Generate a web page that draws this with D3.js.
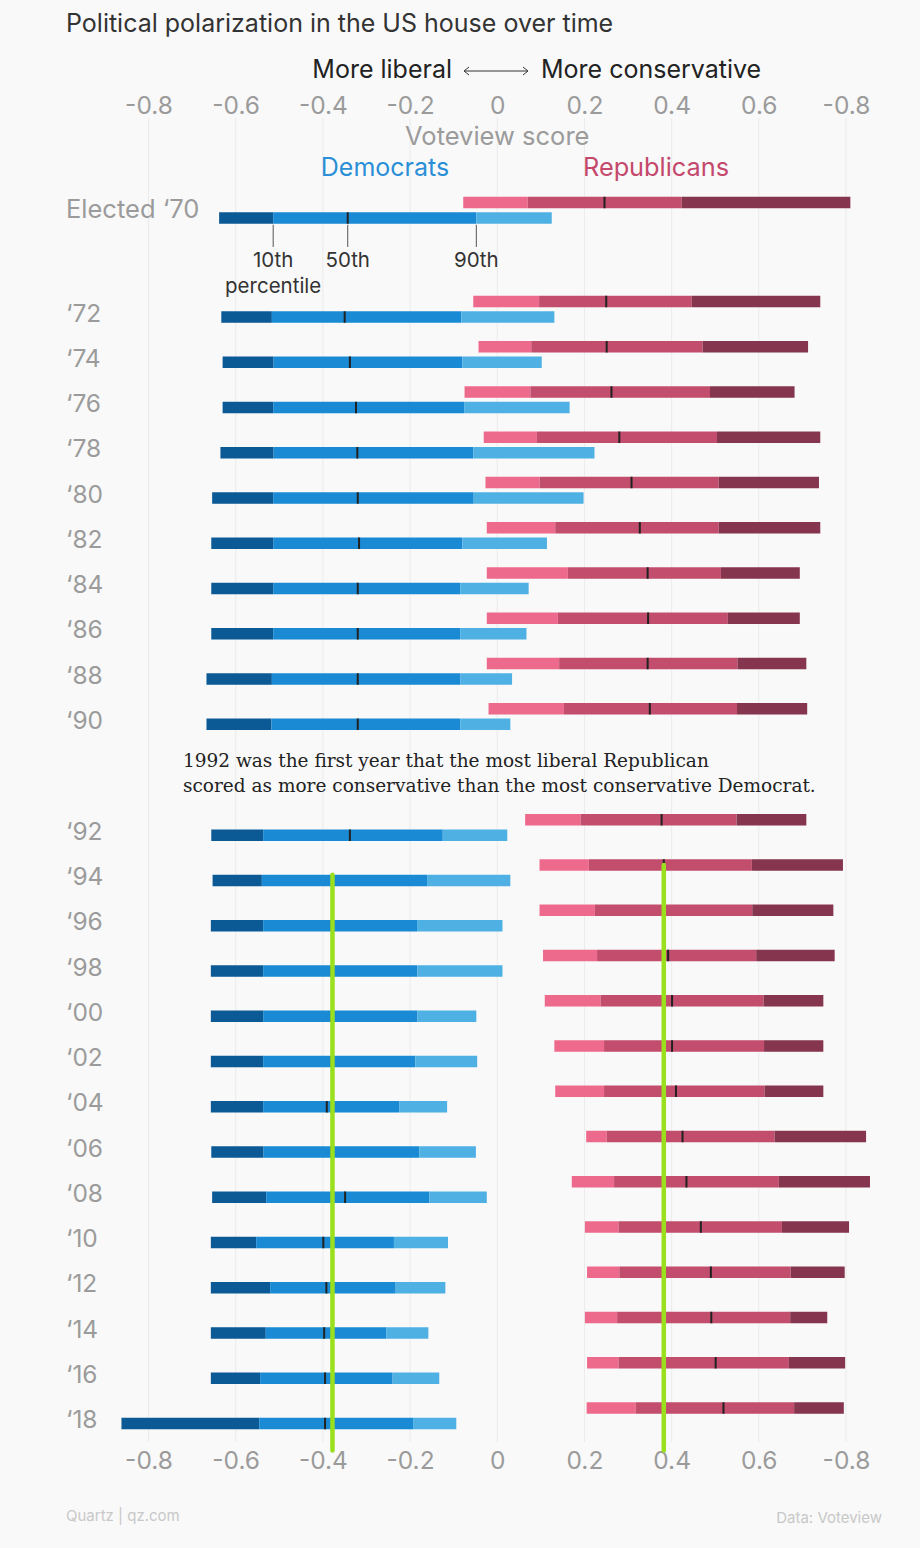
<!DOCTYPE html>
<html>
<head>
<meta charset="utf-8">
<script src="https://cdn.jsdelivr.net/npm/d3@7/dist/d3.min.js"></script>
<style>
  html, body { margin: 0; padding: 0; background: #f9f9f9; }
  svg { display: block; font-family: Inter, Roboto, "Noto Sans", sans-serif; }
</style>
</head>
<body>
<svg id="chart" width="920" height="1548"></svg>
<script>
// ---------- DATA ----------
const years = ["Elected ‘70","‘72","‘74","‘76","‘78","‘80","‘82","‘84","‘86","‘88","‘90",
  "‘92","‘94","‘96","‘98","‘00","‘02","‘04","‘06","‘08","‘10","‘12","‘14","‘16","‘18"];

const tickValues = [-0.8,-0.6,-0.4,-0.2,0,0.2,0.4,0.6,0.8];
const tickLabels = ["-0.8","-0.6","-0.4","-0.2","0","0.2","0.4","0.6","-0.8"];

// Democrats: min, 10th, 50th, 90th percentile, max
const demMin = [-0.638,-0.633,-0.630,-0.630,-0.635,-0.654,-0.656,-0.656,-0.656,-0.667,-0.667,
  -0.656,-0.653,-0.657,-0.657,-0.657,-0.657,-0.657,-0.656,-0.654,-0.657,-0.657,-0.657,-0.657,-0.862];
const demP10 = [-0.514,-0.517,-0.513,-0.514,-0.513,-0.514,-0.514,-0.514,-0.514,-0.517,-0.518,
  -0.537,-0.540,-0.537,-0.537,-0.537,-0.537,-0.537,-0.536,-0.530,-0.553,-0.521,-0.531,-0.544,-0.546];
const demP50 = [-0.343,-0.350,-0.338,-0.324,-0.321,-0.320,-0.317,-0.320,-0.320,-0.320,-0.320,
  -0.338,-0.378,-0.380,-0.380,-0.380,-0.380,-0.391,-0.380,-0.349,-0.399,-0.392,-0.397,-0.395,-0.395];
const demP90 = [-0.048,-0.082,-0.080,-0.076,-0.055,-0.054,-0.080,-0.085,-0.085,-0.085,-0.085,
  -0.125,-0.161,-0.184,-0.183,-0.183,-0.188,-0.225,-0.179,-0.156,-0.237,-0.233,-0.254,-0.240,-0.193];
const demMax = [0.125,0.131,0.102,0.166,0.223,0.198,0.114,0.072,0.067,0.034,0.030,
  0.023,0.030,0.012,0.012,-0.048,-0.046,-0.115,-0.049,-0.024,-0.113,-0.119,-0.158,-0.133,-0.094];

// Republicans: min, 10th, 50th, 90th percentile, max
const repMin = [-0.078,-0.055,-0.043,-0.075,-0.031,-0.027,-0.024,-0.024,-0.024,-0.024,-0.020,
  0.064,0.097,0.097,0.105,0.109,0.131,0.133,0.204,0.171,0.201,0.206,0.201,0.206,0.205];
const repP10 = [0.070,0.096,0.078,0.076,0.091,0.097,0.133,0.162,0.139,0.142,0.153,
  0.191,0.210,0.224,0.229,0.237,0.245,0.245,0.251,0.268,0.278,0.280,0.275,0.278,0.318];
const repP50 = [0.246,0.250,0.251,0.262,0.280,0.308,0.327,0.345,0.346,0.345,0.350,
  0.377,0.382,0.383,0.392,0.401,0.401,0.410,0.425,0.434,0.467,0.490,0.491,0.501,0.519];
const repP90 = [0.423,0.446,0.471,0.488,0.504,0.508,0.508,0.513,0.529,0.551,0.550,
  0.549,0.584,0.585,0.594,0.611,0.612,0.613,0.636,0.646,0.653,0.673,0.672,0.669,0.681];
const repMax = [0.810,0.741,0.713,0.682,0.741,0.738,0.741,0.694,0.694,0.709,0.711,
  0.709,0.793,0.771,0.774,0.748,0.748,0.748,0.846,0.855,0.807,0.797,0.757,0.798,0.795];

const highlightYear = "‘94";
const percentileLabels = ["10th","50th","90th"];

// ---------- LAYOUT ----------
const svg = d3.select("#chart");
const W = 920, H = 1548;
svg.append("rect").attr("width", W).attr("height", H).attr("fill", "#f9f9f9");

const x = d3.scaleLinear().domain([-0.8, 0.8]).range([148.5, 846]);

// slot positions (extra space after first row and after 1990 for annotations)
const slot = years.map((d, i) => i + (i >= 1 ? 1.188 : 0) + (i >= 11 ? 1.453 : 0));
const y = d3.scaleLinear().domain([0, 1]).range([218, 218 + 45.25]);

const barH = 11.5, repOffset = -15.5;

const demCols = ["#0b5a96", "#1a8ad4", "#1a8ad4", "#4fb0e4"];
const repCols = ["#ee6a8d", "#c24d6d", "#c24d6d", "#86354e"];
const gray = "#9b9b9b";

// gridlines
svg.append("g").selectAll("line").data(tickValues).join("line")
  .attr("x1", d => x(d)).attr("x2", d => x(d))
  .attr("y1", 118).attr("y2", 1442)
  .attr("stroke", "#ebebeb").attr("stroke-width", 1);

// title
svg.append("text").attr("x", 66).attr("y", 32)
  .style("font-size", "25px").attr("fill", "#333")
  .text("Political polarization in the US house over time");

// direction header
svg.append("text").attr("x", 452).attr("y", 78).attr("text-anchor", "end")
  .style("font-size", "25px").attr("fill", "#222").text("More liberal");
svg.append("text").attr("x", 541).attr("y", 78).attr("text-anchor", "start")
  .style("font-size", "25px").attr("fill", "#222").text("More conservative");
svg.append("path")
  .attr("d", "M464,71 H528 M469,67 L464,71 L469,75 M523,67 L528,71 L523,75")
  .attr("fill", "none").attr("stroke", "#333").attr("stroke-width", 1);

// axes (top and bottom)
const axisTop = d3.axisTop(x).tickValues(tickValues)
  .tickFormat((d, i) => tickLabels[i]).tickSize(0).tickPadding(0);
const axisBottom = d3.axisBottom(x).tickValues(tickValues)
  .tickFormat((d, i) => tickLabels[i]).tickSize(0).tickPadding(0);

function styleAxis(g) {
  g.select(".domain").remove();
  g.selectAll("text")
    .style("font-family", "Inter, Roboto, sans-serif")
    .style("font-size", "24.5px").attr("fill", gray);
}
svg.append("g").attr("transform", "translate(0,114)").call(axisTop).call(styleAxis);
svg.append("g").attr("transform", "translate(0,1452)").call(axisBottom).call(styleAxis);

svg.append("text").attr("x", x(0)).attr("y", 145).attr("text-anchor", "middle")
  .style("font-size", "25.5px").attr("fill", gray).text("Voteview score");

svg.append("text").attr("x", 385).attr("y", 176).attr("text-anchor", "middle")
  .style("font-size", "25px").attr("fill", "#2a8fd6").text("Democrats");
svg.append("text").attr("x", 656).attr("y", 176).attr("text-anchor", "middle")
  .style("font-size", "25.3px").attr("fill", "#c4486b").text("Republicans");

// rows
const rows = years.map((label, i) => ({
  label, i,
  yc: y(slot[i]),
  dem: [demMin[i], demP10[i], demP50[i], demP90[i], demMax[i]],
  rep: [repMin[i], repP10[i], repP50[i], repP90[i], repMax[i]]
}));

const rowG = svg.append("g").selectAll("g").data(rows).join("g");

rowG.append("text")
  .attr("x", 66).attr("y", d => d.yc + (d.i === 0 ? 0 : 4.5))
  .style("font-size", d => d.i === 0 ? "25.5px" : "24.5px").attr("fill", gray)
  .text(d => d.label);

function drawBar(sel, key, cols, off) {
  sel.each(function(d) {
    const g = d3.select(this);
    const v = d[key];
    const segs = [0,1,2,3].map(k => ({a: v[k], b: v[k+1], c: cols[k]}));
    g.selectAll("rect." + key).data(segs).join("rect").attr("class", key)
      .attr("x", s => x(s.a)).attr("width", s => Math.max(0, x(s.b) - x(s.a)))
      .attr("y", d.yc + off - barH / 2).attr("height", barH)
      .attr("fill", s => s.c);
    g.append("rect").attr("x", x(v[2]) - 1).attr("width", 2)
      .attr("y", d.yc + off - barH / 2).attr("height", barH)
      .attr("fill", "#222");
  });
}
drawBar(rowG, "dem", demCols, 0);
drawBar(rowG, "rep", repCols, repOffset);

// percentile annotation on first row
const first = rows[0];
const pctVals = [first.dem[1], first.dem[2], first.dem[3]];
svg.append("g").selectAll("line").data(pctVals).join("line")
  .attr("x1", d => x(d)).attr("x2", d => x(d))
  .attr("y1", first.yc + barH / 2 + 1).attr("y2", first.yc + 29)
  .attr("stroke", "#555").attr("stroke-width", 1);
svg.append("g").selectAll("text").data(pctVals).join("text")
  .attr("x", d => x(d)).attr("y", first.yc + 49).attr("text-anchor", "middle")
  .style("font-size", "20.5px").attr("fill", "#333")
  .text((d, i) => percentileLabels[i]);
svg.append("text").attr("x", x(pctVals[0])).attr("y", first.yc + 75)
  .attr("text-anchor", "middle").style("font-size", "20.5px").attr("fill", "#333")
  .text("percentile");

// 1992 annotation
const note = svg.append("text")
  .style("font-family", "'DejaVu Serif', 'Liberation Serif', serif")
  .style("font-size", "18.5px").attr("fill", "#222");
note.append("tspan").attr("x", 183).attr("y", 767)
  .text("1992 was the first year that the most liberal Republican");
note.append("tspan").attr("x", 183).attr("y", 792)
  .text("scored as more conservative than the most conservative Democrat.");

// green reference lines at 1994 medians
const hi = rows.find(r => r.label === highlightYear);
const lastY = rows[rows.length - 1].yc;
svg.append("line").attr("x1", x(hi.dem[2])).attr("x2", x(hi.dem[2]))
  .attr("y1", hi.yc - barH / 2).attr("y2", lastY + 27)
  .attr("stroke", "#9ae01c").attr("stroke-width", 4.5).attr("stroke-linecap", "round");
svg.append("line").attr("x1", x(hi.rep[2])).attr("x2", x(hi.rep[2]))
  .attr("y1", hi.yc + repOffset).attr("y2", lastY + 27)
  .attr("stroke", "#9ae01c").attr("stroke-width", 4.5).attr("stroke-linecap", "round");

// footer
svg.append("text").attr("x", 66).attr("y", 1521).style("font-size", "15px")
  .attr("fill", "#c8c8c8").text("Quartz | qz.com");
svg.append("text").attr("x", 882).attr("y", 1523).attr("text-anchor", "end")
  .style("font-size", "15px").attr("fill", "#c8c8c8").text("Data: Voteview");
</script>
</body>
</html>
